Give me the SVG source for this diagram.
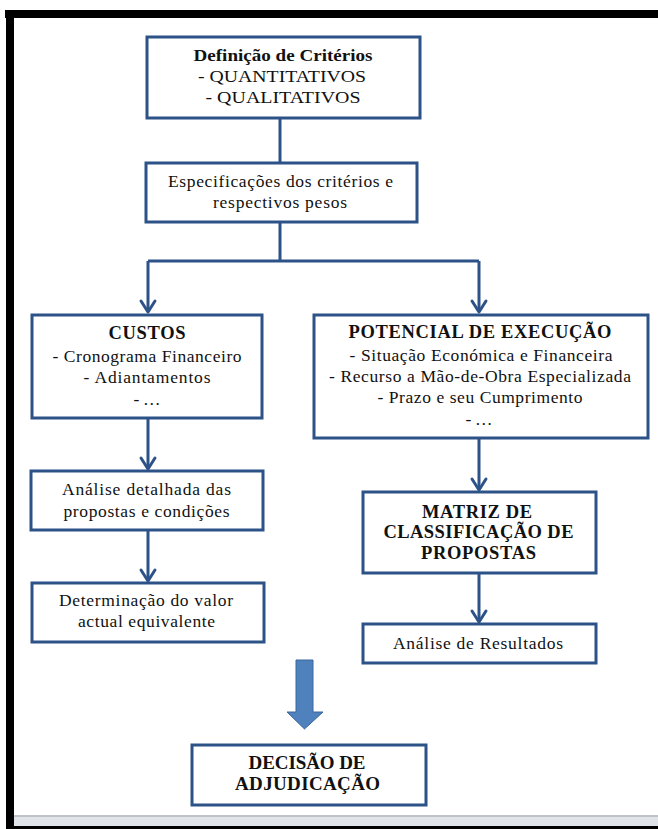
<svg xmlns="http://www.w3.org/2000/svg" width="658" height="829" viewBox="0 0 658 829">
<style>
.box{fill:#fff;stroke:#2D5288;stroke-width:3}
.t{font-family:"Liberation Serif","Times New Roman",serif;font-size:17.5px;fill:#111;text-anchor:middle}
.b{font-weight:bold;font-size:18.5px}
.c{fill:none;stroke:#2D5288;stroke-width:3;stroke-linejoin:round}
</style>
<defs>
<marker id="ah" markerUnits="userSpaceOnUse" markerWidth="20" markerHeight="20" viewBox="-14 -10 16 20" refX="0" refY="0" orient="auto">
<path d="M-11,-7 L0,0 L-11,7" fill="none" stroke="#2D5288" stroke-width="3" stroke-linejoin="round" stroke-linecap="round"/>
</marker>
</defs>
<rect width="658" height="829" fill="#fff"/>
<g id="frame">
<rect x="5" y="10" width="653" height="8" fill="#000"/>
<rect x="6" y="10" width="8" height="819" fill="#000"/>
<rect x="14" y="815" width="644" height="12" fill="#E0E3E7"/>
<rect x="14" y="815" width="644" height="2" fill="#BFC3C9"/>
<rect x="6" y="826" width="652" height="3" fill="#000"/>
</g>
<g id="connectors">
<path class="c" d="M280,118 V163"/>
<path class="c" d="M280,222 V261 M148,261 H479"/>
<path class="c" d="M148,261 V312" marker-end="url(#ah)"/>
<path class="c" d="M479,261 V312" marker-end="url(#ah)"/>
<path class="c" d="M148,418 V469" marker-end="url(#ah)"/>
<path class="c" d="M148,530 V581" marker-end="url(#ah)"/>
<path class="c" d="M479,438 V490" marker-end="url(#ah)"/>
<path class="c" d="M479,573 V622" marker-end="url(#ah)"/>
<path d="M296,660 H313 V712 H323 L304.5,729 L287,712 H296 Z" fill="#4F81BD" stroke="#3A679C" stroke-width="1"/>
</g>
<g id="n1">
<rect class="box" x="147" y="37" width="273" height="81"/>
<text class="t b" style="font-size:17.5px" x="283" y="61" textLength="179" lengthAdjust="spacingAndGlyphs">Definição de Critérios</text>
<text class="t" x="282" y="82" textLength="168" lengthAdjust="spacingAndGlyphs">- QUANTITATIVOS</text>
<text class="t" x="283" y="103" textLength="155" lengthAdjust="spacingAndGlyphs">- QUALITATIVOS</text>
</g>
<g id="n2">
<rect class="box" x="146" y="163" width="271" height="59"/>
<text class="t" x="280.5" y="187" textLength="225" lengthAdjust="spacing">Especificações dos critérios e</text>
<text class="t" x="280" y="208" textLength="134" lengthAdjust="spacing">respectivos pesos</text>
</g>
<g id="n3">
<rect class="box" x="32" y="315" width="230" height="103"/>
<text class="t b" x="147" y="339" textLength="77" lengthAdjust="spacing">CUSTOS</text>
<text class="t" x="147" y="362" textLength="189" lengthAdjust="spacing">- Cronograma Financeiro</text>
<text class="t" x="147" y="383" textLength="127" lengthAdjust="spacing">- Adiantamentos</text>
<text class="t" x="147" y="405" textLength="27" lengthAdjust="spacing">- …</text>
</g>
<g id="n4">
<rect class="box" x="314" y="315" width="334" height="123"/>
<text class="t b" x="480" y="338" textLength="263" lengthAdjust="spacing">POTENCIAL DE EXECUÇÃO</text>
<text class="t" x="481" y="361" textLength="263" lengthAdjust="spacing">- Situação Económica e Financeira</text>
<text class="t" x="480" y="382" textLength="302" lengthAdjust="spacing">- Recurso a Mão-de-Obra Especializada</text>
<text class="t" x="480" y="403" textLength="205" lengthAdjust="spacing">- Prazo e seu Cumprimento</text>
<text class="t" x="479" y="425" textLength="27" lengthAdjust="spacing">- …</text>
</g>
<g id="n5">
<rect class="box" x="31" y="471" width="232" height="59"/>
<text class="t" x="146.5" y="495" textLength="169" lengthAdjust="spacing">Análise detalhada das</text>
<text class="t" x="146.5" y="517" textLength="166" lengthAdjust="spacing">propostas e condições</text>
</g>
<g id="n6">
<rect class="box" x="32" y="583" width="232" height="59"/>
<text class="t" x="146" y="606" textLength="174" lengthAdjust="spacing">Determinação do valor</text>
<text class="t" x="146.5" y="627" textLength="137" lengthAdjust="spacing">actual equivalente</text>
</g>
<g id="n7">
<rect class="box" x="363" y="492" width="233" height="81"/>
<text class="t b" x="477" y="518" textLength="110" lengthAdjust="spacing">MATRIZ DE</text>
<text class="t b" x="478.5" y="538" textLength="190" lengthAdjust="spacing">CLASSIFICAÇÃO DE</text>
<text class="t b" x="478.5" y="559" textLength="115" lengthAdjust="spacing">PROPOSTAS</text>
</g>
<g id="n8">
<rect class="box" x="363" y="624" width="233" height="39"/>
<text class="t" x="478" y="649" textLength="170" lengthAdjust="spacing">Análise de Resultados</text>
</g>
<g id="n9">
<rect class="box" x="192" y="745" width="234" height="60"/>
<text class="t b" style="font-size:19px" x="307" y="769" textLength="117" lengthAdjust="spacing">DECISÃO DE</text>
<text class="t b" style="font-size:19px" x="307.5" y="790" textLength="145" lengthAdjust="spacing">ADJUDICAÇÃO</text>
</g>
</svg>
